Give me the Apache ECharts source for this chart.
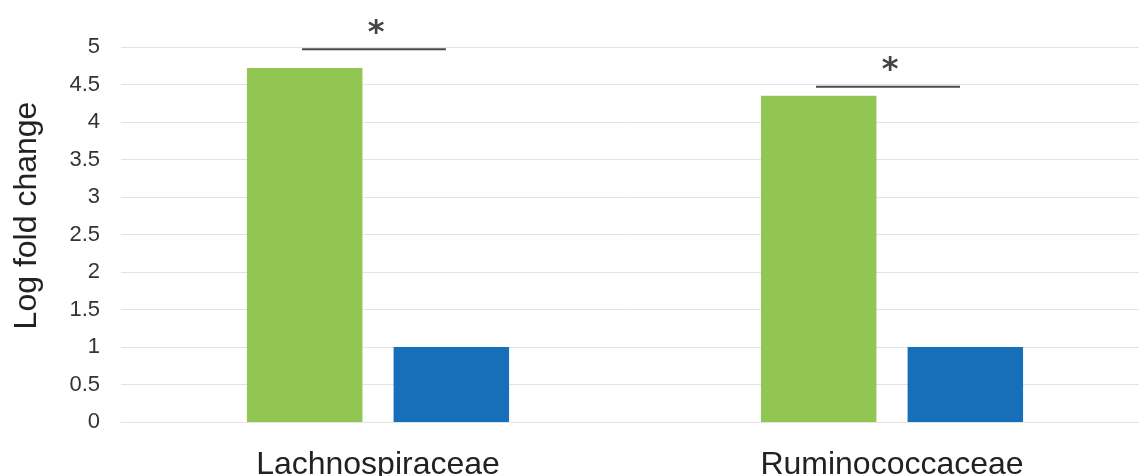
<!DOCTYPE html>
<html>
<head>
<meta charset="utf-8">
<script src="https://cdn.jsdelivr.net/npm/echarts@6/dist/echarts.min.js"></script>
<style>
  html, body { margin: 0; padding: 0; background: #fff; }
  #chart { width: 1139px; height: 476px; }
</style>
</head>
<body>
<div id="chart"></div>
<script>
var categories = ['Lachnospiraceae', 'Ruminococcaceae'];
var greenValues = [4.72, 4.35];
var blueValues = [1, 1];
var yTicks = [0, 0.5, 1, 1.5, 2, 2.5, 3, 3.5, 4, 4.5, 5];
// significance brackets: [category index, height]
var sigMarks = [[0, 4.97], [1, 4.47]];
var sigLabels = ['*', '*'];

var myChart = echarts.init(document.getElementById('chart'));
var option = {
    animation: false,
    textStyle: { fontFamily: 'Liberation Sans, Arial, sans-serif' },
    grid: {
        left: 121,
        width: 1028,
        top: 47,
        bottom: 54,
        outerBoundsMode: 'none'
    },
    xAxis: {
        type: 'category',
        data: categories,
        axisLine: { show: true, lineStyle: { color: '#e3e3e3', width: 1 } },
        axisTick: { show: false },
        axisLabel: { fontSize: 32, color: '#222', margin: 27 }
    },
    yAxis: {
        type: 'value',
        min: yTicks[0],
        max: yTicks[yTicks.length - 1],
        interval: 0.5,
        name: 'Log fold change',
        nameLocation: 'middle',
        nameGap: 78,
        nameTextStyle: { fontSize: 32, color: '#222', padding: [0, 0, 0, 38] },
        axisLine: { show: false },
        axisTick: { show: false },
        axisLabel: { fontSize: 22, color: '#333', margin: 21 },
        splitLine: { lineStyle: { color: '#e3e3e3', width: 1 } }
    },
    series: [
        {
            type: 'bar',
            data: greenValues,
            barGap: '27%',
            barCategoryGap: '49%',
            itemStyle: { color: '#92c653' }
        },
        {
            type: 'bar',
            data: blueValues,
            itemStyle: { color: '#166fb8' }
        },
        {
            type: 'custom',
            data: sigMarks,
            z: 5,
            renderItem: function (params, api) {
                var c = api.coord([api.value(0), api.value(1)]);
                var band = api.size([1, 0])[0];
                var half = band * 0.14;
                var cx = c[0] - 4;
                return {
                    type: 'group',
                    children: [
                        {
                            type: 'line',
                            shape: { x1: cx - half, y1: c[1], x2: cx + half, y2: c[1] },
                            style: { stroke: '#4a4a4a', lineWidth: 2 }
                        },
                        {
                            type: 'text',
                            x: cx + 2,
                            y: c[1] - 16,
                            style: {
                                text: sigLabels[params.dataIndex],
                                fontSize: 32,
                                fontWeight: 'bold',
                                fontFamily: 'DejaVu Sans, sans-serif',
                                fill: '#444',
                                align: 'center',
                                verticalAlign: 'middle'
                            }
                        }
                    ]
                };
            }
        }
    ]
};
myChart.setOption(option);
</script>
</body>
</html>
